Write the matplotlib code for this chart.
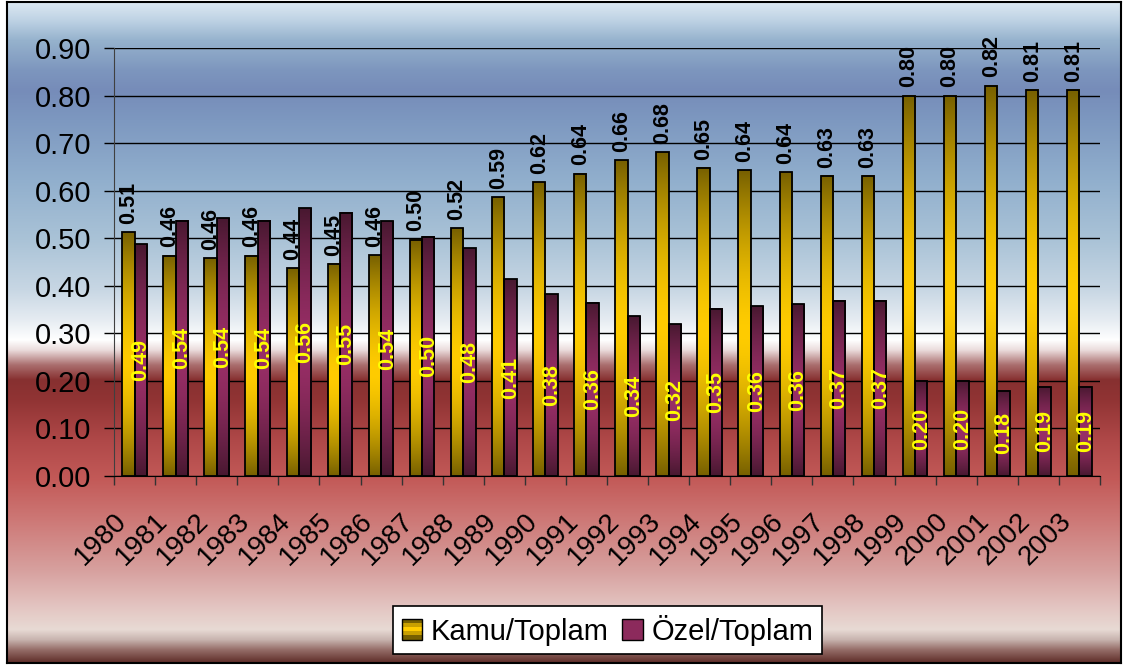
import numpy as np
import matplotlib
matplotlib.use("Agg")
import matplotlib.pyplot as plt
from matplotlib.patches import Rectangle
from matplotlib.legend_handler import HandlerBase
from matplotlib.transforms import ScaledTranslation

plt.rcParams['font.family'] = ['Liberation Sans', 'DejaVu Sans']

years = [str(y) for y in range(1980, 2004)]
kamu = [0.513, 0.463, 0.458, 0.463, 0.437, 0.446, 0.464, 0.497, 0.521, 0.586,
        0.618, 0.636, 0.664, 0.681, 0.648, 0.643, 0.639, 0.631, 0.631, 0.800,
        0.800, 0.821, 0.812, 0.812]
ozel = [0.487, 0.537, 0.542, 0.537, 0.563, 0.554, 0.536, 0.503, 0.479, 0.414,
        0.382, 0.364, 0.336, 0.319, 0.352, 0.357, 0.361, 0.369, 0.369, 0.200,
        0.200, 0.179, 0.188, 0.188]
series_names = ['Kamu/Toplam', 'Özel/Toplam']

W, H = 1123, 666
fig = plt.figure(figsize=(W / 100, H / 100), dpi=100)
fig.patch.set_facecolor('white')

# background gradient (figure pixel rows from top -> colour)
stops_y = [2, 20, 40, 70, 90, 120, 180, 240, 290, 320, 340, 350, 365, 380,
           400, 440, 480, 520, 570, 610, 630, 640, 650, 663]
stops_c = [(220, 232, 242), (190, 210, 228), (150, 178, 205), (125, 150, 190),
           (118, 140, 185), (125, 152, 192), (145, 175, 205), (170, 195, 215),
           (200, 215, 228), (230, 236, 242), (255, 255, 255), (235, 220, 220),
           (170, 110, 110), (135, 48, 48), (145, 52, 52), (175, 72, 72),
           (195, 90, 88), (205, 120, 118), (215, 160, 158), (228, 200, 196),
           (232, 218, 212), (200, 180, 175), (150, 110, 105), (95, 45, 40)]
rows = np.arange(2, 664)
stops_c = np.array(stops_c) / 255.0
grad = np.stack([np.interp(rows, stops_y, stops_c[:, i]) for i in range(3)], axis=-1)
grad = grad[:, None, :]

bg = fig.add_axes([7 / W, 3 / H, 1114 / W, 661 / H], zorder=-10)
bg.imshow(grad, aspect='auto', extent=(0, 1, 0, 1), interpolation='bilinear')
bg.set_xticks([])
bg.set_yticks([])
for s in bg.spines.values():
    s.set_color('black')
    s.set_linewidth(1.5)

ax = fig.add_axes([114 / W, 1 - 476 / H, 986 / W, 428 / H], zorder=1)
ax.set_facecolor('none')

x = np.arange(len(years))
bw = 0.3


def bar_gradient(dark, bright, n=200, peak=0.47):
    t = np.linspace(0, 1, n)
    s = np.where(t < peak, (peak - t) / peak, (t - peak) / (1 - peak))
    f = 1 - s ** 1.6
    dark = np.array(dark) / 255.0
    bright = np.array(bright) / 255.0
    return (dark + (bright - dark) * f[:, None])[:, None, :]


kamu_grad = bar_gradient((119, 96, 0), (255, 204, 0))
ozel_grad = bar_gradient((72, 24, 48), (152, 46, 102))

for xi, k, o in zip(x, kamu, ozel):
    ax.imshow(kamu_grad, origin='lower', aspect='auto', interpolation='bilinear',
              extent=(xi - bw, xi, 0, k), zorder=2)
    ax.imshow(ozel_grad, origin='lower', aspect='auto', interpolation='bilinear',
              extent=(xi, xi + bw, 0, o), zorder=2)

ax.bar(x - bw / 2, kamu, bw, facecolor='none', edgecolor='black', linewidth=1.3, zorder=3)
ax.bar(x + bw / 2, ozel, bw, facecolor='none', edgecolor='black', linewidth=1.3, zorder=3)

for xi, k, o in zip(x, kamu, ozel):
    ax.annotate(f'{k:.2f}', (xi - bw / 2, k), xytext=(0, 6), textcoords='offset points',
                rotation=90, ha='center', va='bottom', fontsize=15.5,
                fontweight='bold', color='black', zorder=4)
    ax.text(xi + bw / 2, o / 2, f'{o:.2f}', rotation=90, ha='center', va='center',
            fontsize=15.5, fontweight='bold', color='#ffff00', zorder=4)

ax.set_xlim(-0.5, len(years) - 0.5)
ax.set_ylim(0, 0.9)
ax.set_yticks(np.arange(0, 0.91, 0.1))
ax.set_yticklabels([f'{v:.2f}' for v in np.arange(0, 0.91, 0.1)], fontsize=21)
ax.yaxis.grid(True, color='black', linewidth=1)
ax.set_axisbelow(True)
ax.tick_params(axis='y', length=7.2, width=1, pad=9, color='black')

ax.set_xticks(x)
ax.set_xticklabels(years, fontsize=20, rotation=45, ha='right', va='center',
                   rotation_mode='anchor')
ax.set_xticks(np.arange(-0.5, len(years), 1), minor=True)
ax.tick_params(axis='x', which='major', length=0, pad=30)
ax.tick_params(axis='x', which='minor', length=6.5, width=1, color='#333333')
shift = ScaledTranslation(-0.12, 0, fig.dpi_scale_trans)
for lab in ax.get_xticklabels():
    lab.set_transform(lab.get_transform() + shift)

ax.spines['top'].set_visible(False)
ax.spines['right'].set_visible(False)
ax.spines['left'].set_color('#404040')
ax.spines['bottom'].set_color('black')


class StripeHandler(HandlerBase):
    def __init__(self, colors):
        super().__init__()
        self.colors = colors

    def create_artists(self, legend, orig_handle, xdescent, ydescent, width,
                       height, fontsize, trans):
        arts = []
        n = len(self.colors)
        for i, c in enumerate(self.colors):
            arts.append(Rectangle((-xdescent, -ydescent + height * i / n), width,
                                  height / n, facecolor=c, edgecolor='none',
                                  transform=trans))
        arts.append(Rectangle((-xdescent, -ydescent), width, height,
                              facecolor='none', edgecolor='black', linewidth=1,
                              transform=trans))
        return arts


h1 = Rectangle((0, 0), 1, 1)
h2 = Rectangle((0, 0), 1, 1)
leg = fig.legend([h1, h2], series_names, loc='center', bbox_to_anchor=(0.541, 0.054),
                 ncol=2, fontsize=21, frameon=True, fancybox=False,
                 handlelength=0.7, handleheight=0.7, handletextpad=0.3,
                 columnspacing=0.45, borderpad=0.3,
                 handler_map={h1: StripeHandler(['#776000', '#c9a000', '#ffcc00',
                                                 '#c9a000', '#776000']),
                              h2: StripeHandler(['#8c2a5c'])})
leg.get_frame().set_edgecolor('black')
leg.get_frame().set_linewidth(1.2)
leg.get_frame().set_facecolor('white')
leg.get_frame().set_alpha(1)

fig.savefig('out.png', dpi=100)
